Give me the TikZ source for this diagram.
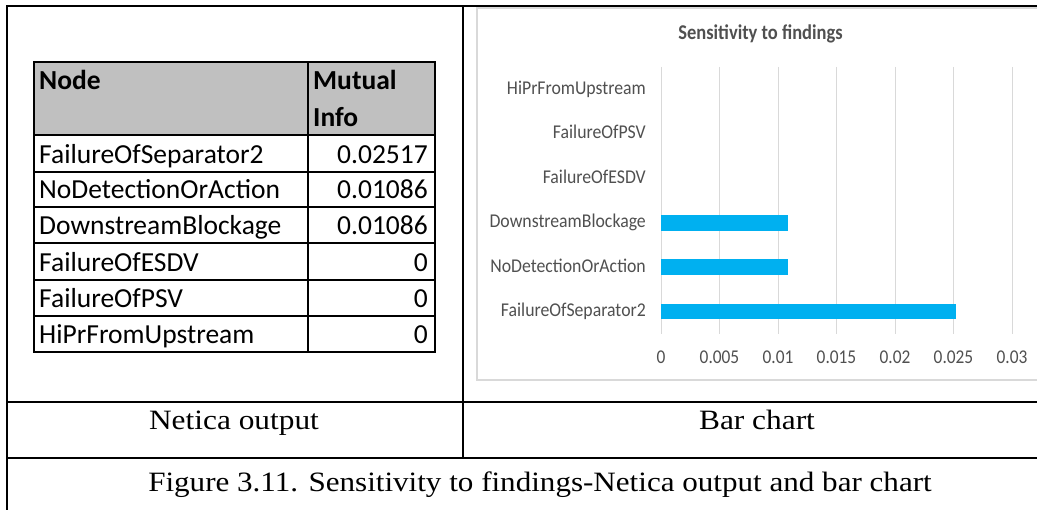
\documentclass[tikz,border=0pt]{standalone}
\usepackage{fontspec}
\setmainfont{Liberation Serif}
\newfontfamily\calib{Carlito}
\usepackage{graphicx}
\definecolor{hdrgray}{HTML}{C0C0C0}
\definecolor{charttext}{HTML}{505050}
\definecolor{gridgray}{HTML}{D9D9D9}
\definecolor{barblue}{HTML}{00B0F0}
\tikzset{
  frame/.style={line width=2pt, black},
  cell/.style={line width=1.3pt, black},
  tbltext/.style={inner sep=0pt, font=\calib\fontsize{27.5}{33}\selectfont},
  tblhead/.style={tbltext, font=\calib\bfseries\fontsize{27.5}{33}\selectfont},
  serifcap/.style={inner sep=0pt, anchor=base, font=\fontsize{28}{34}\selectfont},
  catlabel/.style={inner sep=0pt, anchor=base east, text=charttext, font=\calib\fontsize{19.5}{23}\selectfont},
  ticklabel/.style={inner sep=0pt, anchor=base, text=charttext, font=\calib\fontsize{19.5}{23}\selectfont},
  gridline/.style={line width=0.9pt, gridgray},
  bar/.style={fill=barblue, draw=none}
}
\newcommand{\sqz}[2]{\scalebox{#1}[1]{#2}}
% axis: zero at x=661, 11700 px per unit, gridline step 58.5
\newcommand{\xz}{661}
\newcommand{\xu}{11700}
\begin{document}
\begin{tikzpicture}[x=1pt,y=-1pt]
\useasboundingbox (0,0) rectangle (1037,510);
\fill[white] (0,0) rectangle (1037,510);

% ---- chart frame and gridlines ----
\draw[line width=1.2pt, gridgray] (1045,8) -- (477,8) -- (477,380) -- (1045,380);
\foreach \i in {0,...,6}
  \draw[gridline] ({\xz+\i*58.5},67) -- ({\xz+\i*58.5},334);

% bars
\fill[bar] (\xz,{311.5-7.8}) rectangle ({\xz+0.02517*\xu},{311.5+7.8});
\fill[bar] (\xz,{266.9-7.8}) rectangle ({\xz+0.01086*\xu},{266.9+7.8});
\fill[bar] (\xz,{222.8-7.8}) rectangle ({\xz+0.01086*\xu},{222.8+7.8});

% chart title
\node[inner sep=0pt, anchor=base, text=charttext, font=\calib\bfseries\fontsize{21}{25}\selectfont]
  (charttitle) at (760.5,40) {\sqz{0.88}{Sensitivity to findings}};

% category labels
\node[catlabel] (cHi)  at (646,95)  {\sqz{0.91}{HiPrFromUpstream}};
\node[catlabel] (cPSV) at (646,139) {\sqz{0.91}{FailureOfPSV}};
\node[catlabel] (cESD) at (646,183.5) {\sqz{0.91}{FailureOfESDV}};
\node[catlabel] (cDB)  at (646,228) {\sqz{0.91}{DownstreamBlockage}};
\node[catlabel] (cND)  at (646,272.5) {\sqz{0.91}{NoDetectionOrAction}};
\node[catlabel] (cFS)  at (646,317) {\sqz{0.91}{FailureOfSeparator2}};

% x-axis tick labels
\foreach \i/\t in {0/0,1/0.005,2/0.01,3/0.015,4/0.02,5/0.025,6/0.03}
  \node[ticklabel] (t\i) at ({\xz+\i*58.5},364) {\sqz{0.89}{\t}};

% ---- Netica table ----
\fill[hdrgray] (34,62) rectangle (435,135);
\draw[cell] (34,62) rectangle (435,352);
\draw[cell] (308,62) -- (308,352);
\foreach \y in {135,172,207,243,280,316}
  \draw[cell] (34,\y) -- (435,\y);

\node[tblhead, anchor=base west] (hNode) at (39,90) {Node};
\node[tblhead, anchor=base west] (hMut)  at (313,90) {Mutual};
\node[tblhead, anchor=base west] (hInfo) at (313,127) {Info};

\foreach \n/\lab/\val/\yb in {1/FailureOfSeparator2/0.02517/163.5,
                              2/NoDetectionOrAction/0.01086/198.5,
                              3/DownstreamBlockage/0.01086/234.5,
                              4/FailureOfESDV/0/271.5,
                              5/FailureOfPSV/0/307.5,
                              6/HiPrFromUpstream/0/343.5}{
  \node[tbltext, anchor=base west] (r\n) at (39,\yb) {\lab};
  \node[tbltext, anchor=base east] (v\n) at (428,\yb) {\val};
}

% ---- outer layout table ----
\draw[frame] (7,510) -- (7,6) -- (1040,6);
\draw[frame] (463,6) -- (463,458);
\draw[frame] (7,402) -- (1040,402);
\draw[frame] (7,458) -- (1040,458);

\node[serifcap] (netica) at (234,430) {\sqz{1.12}{Netica output}};
\node[serifcap] (barc)   at (757,430) {\sqz{1.12}{Bar chart}};
\node[serifcap] (caption) at (540,492) {\sqz{1.11}{Figure 3.11. Sensitivity to findings-Netica output and bar chart}};
\end{tikzpicture}
\end{document}
